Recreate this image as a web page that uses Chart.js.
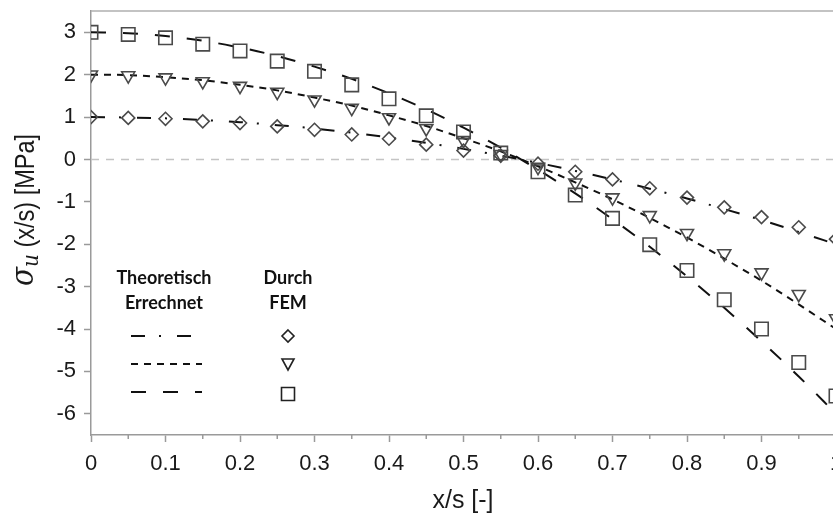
<!DOCTYPE html>
<html>
<head>
<meta charset="utf-8">
<script src="https://cdn.jsdelivr.net/npm/chart.js@4/dist/chart.umd.min.js"></script>
<style>
  html, body { margin: 0; padding: 0; background: #fff; }
  #wrap { width: 833px; height: 515px; overflow: hidden; position: relative; }
  canvas { display: block; }
</style>
</head>
<body>
<div id="wrap"><canvas id="chart" width="860" height="515"></canvas></div>
<script>
// x/s positions
const xValues = [0, 0.05, 0.1, 0.15, 0.2, 0.25, 0.3, 0.35, 0.4, 0.45, 0.5,
                 0.55, 0.6, 0.65, 0.7, 0.75, 0.8, 0.85, 0.9, 0.95, 1.0];

// theoretical curves (lines)
const theoryLow  = [1, 0.99, 0.97, 0.93, 0.88, 0.81, 0.73, 0.63, 0.52, 0.39, 0.25,
                    0.09, -0.08, -0.27, -0.47, -0.69, -0.92, -1.17, -1.43, -1.71, -2];
const theoryMid  = [2, 1.99, 1.94, 1.87, 1.76, 1.63, 1.46, 1.27, 1.04, 0.79, 0.5,
                    0.19, -0.16, -0.54, -0.94, -1.38, -1.84, -2.34, -2.86, -3.42, -4];
const theoryHigh = [3, 2.98, 2.91, 2.8, 2.64, 2.44, 2.19, 1.9, 1.56, 1.18, 0.75,
                    0.28, -0.24, -0.8, -1.41, -2.06, -2.76, -3.5, -4.29, -5.12, -6];

// FEM results (markers)
const femLow  = [1.0, 0.98, 0.96, 0.9, 0.86, 0.78, 0.7, 0.59, 0.49, 0.35, 0.21,
                 0.09, -0.1, -0.29, -0.47, -0.68, -0.9, -1.13, -1.36, -1.6, -1.88];
const femMid  = [2.0, 1.98, 1.93, 1.84, 1.73, 1.59, 1.41, 1.21, 0.99, 0.73, 0.45,
                 0.12, -0.18, -0.55, -0.9, -1.32, -1.74, -2.22, -2.67, -3.18, -3.75];
const femHigh = [3.0, 2.95, 2.87, 2.72, 2.56, 2.32, 2.08, 1.76, 1.43, 1.03, 0.65,
                 0.15, -0.29, -0.84, -1.39, -2.01, -2.62, -3.31, -4.0, -4.79, -5.58];

const xTicks = [0, 0.1, 0.2, 0.3, 0.4, 0.5, 0.6, 0.7, 0.8, 0.9, 1];
const yTicks = [-6, -5, -4, -3, -2, -1, 0, 1, 2, 3];

const dashLow = [14, 14, 2, 16];
const dashMid = [7, 6];
const dashHigh = [15, 17];

const sans = "'Liberation Sans', Arial, sans-serif";
const axisGray = '#9a9a9a';
const markGray = '#4a4a4a';

function toPoints(ys) {
    return xValues.map((x, i) => ({ x: x, y: ys[i] }));
}

function lineSet(ys, dash) {
    return {
        data: toPoints(ys),
        showLine: true,
        borderColor: '#111',
        borderWidth: 2,
        borderDash: dash,
        pointRadius: 0,
        cubicInterpolationMode: 'monotone',
        order: 2
    };
}

function markerSet(ys, style, radius, rotation) {
    return {
        data: toPoints(ys),
        showLine: false,
        pointStyle: style,
        pointRadius: radius,
        pointRotation: rotation,
        pointBorderColor: markGray,
        pointBackgroundColor: 'rgba(0,0,0,0)',
        pointBorderWidth: 1.6,
        order: 1
    };
}

// legend marker drawing
function drawMarker(ctx, kind, x, y) {
    ctx.save();
    ctx.strokeStyle = '#222';
    ctx.lineWidth = 1.6;
    ctx.beginPath();
    if (kind === 'diamond') {
        ctx.moveTo(x, y - 6); ctx.lineTo(x + 6, y); ctx.lineTo(x, y + 6); ctx.lineTo(x - 6, y);
    } else if (kind === 'triangle') {
        ctx.moveTo(x - 6, y - 5); ctx.lineTo(x + 6, y - 5); ctx.lineTo(x, y + 6);
    } else {
        ctx.rect(x - 6.5, y - 6.5, 13, 13);
    }
    ctx.closePath();
    ctx.stroke();
    ctx.restore();
}

const decorPlugin = {
    id: 'decor',
    beforeDatasetsDraw(chart) {
        const ctx = chart.ctx;
        const area = chart.chartArea;
        const xs = chart.scales.x;
        const ys = chart.scales.y;
        ctx.save();
        // zero reference line
        ctx.strokeStyle = '#c4c4c4';
        ctx.lineWidth = 1.5;
        ctx.setLineDash([8, 7]);
        ctx.beginPath();
        ctx.moveTo(area.left, ys.getPixelForValue(0));
        ctx.lineTo(area.right, ys.getPixelForValue(0));
        ctx.stroke();
        ctx.setLineDash([]);
        // top frame
        ctx.strokeStyle = '#b0b0b0';
        ctx.lineWidth = 1.5;
        ctx.beginPath();
        ctx.moveTo(area.left, area.top);
        ctx.lineTo(area.right, area.top);
        ctx.lineTo(area.right, area.bottom);
        ctx.stroke();
        // minor x ticks
        ctx.strokeStyle = axisGray;
        ctx.lineWidth = 1.5;
        for (let i = 0; i < xTicks.length - 1; i++) {
            const px = xs.getPixelForValue(xTicks[i] + 0.05);
            ctx.beginPath();
            ctx.moveTo(px, area.bottom);
            ctx.lineTo(px, area.bottom + 4);
            ctx.stroke();
        }
        ctx.restore();
    },
    afterDraw(chart) {
        const ctx = chart.ctx;
        ctx.save();
        ctx.fillStyle = '#1a1a1a';

        // x title
        ctx.font = '25px ' + sans;
        ctx.textAlign = 'center';
        ctx.textBaseline = 'middle';
        ctx.fillText('x/s [-]', 463, 501);

        // y title (rotated, sigma with subscript u)
        ctx.translate(34, 210);
        ctx.rotate(-Math.PI / 2);
        ctx.scale(0.87, 1);
        const sig = 'σ', sub = 'u', rest = ' (x/s) [MPa]';
        const fSig = 'italic 32px "DejaVu Serif", serif';
        const fSub = 'italic 23px "DejaVu Serif", serif';
        const fRest = '27px ' + sans;
        ctx.font = fSig;
        const wSig = ctx.measureText(sig).width;
        ctx.font = fSub;
        const wSub = ctx.measureText(sub).width;
        ctx.font = fRest;
        const wRest = ctx.measureText(rest).width;
        let cx = -(wSig + wSub + wRest) / 2;
        ctx.textAlign = 'left';
        ctx.textBaseline = 'alphabetic';
        ctx.font = fSig;
        ctx.fillText(sig, cx, -1);
        cx += wSig;
        ctx.font = fSub;
        ctx.fillText(sub, cx, 4);
        cx += wSub;
        ctx.font = fRest;
        ctx.fillText(rest, cx, 0);
        ctx.setTransform(1, 0, 0, 1, 0, 0);

        // legend block
        ctx.fillStyle = '#111';
        ctx.font = 'bold 18px Lato, "Open Sans", sans-serif';
        ctx.textAlign = 'center';
        ctx.textBaseline = 'middle';
        ctx.fillText('Theoretisch', 164, 278);
        ctx.fillText('Errechnet', 164, 303);
        ctx.fillText('Durch', 288, 278);
        ctx.fillText('FEM', 288, 303);

        ctx.strokeStyle = '#111';
        ctx.lineWidth = 2;
        const rows = [[336, dashLow], [364, dashMid], [392, dashHigh]];
        rows.forEach(r => {
            ctx.setLineDash(r[1]);
            ctx.beginPath();
            ctx.moveTo(131, r[0]);
            ctx.lineTo(202, r[0]);
            ctx.stroke();
        });
        ctx.setLineDash([]);
        drawMarker(ctx, 'diamond', 288, 336);
        drawMarker(ctx, 'triangle', 288, 364);
        drawMarker(ctx, 'square', 288, 394);
        ctx.restore();
    }
};

const ctx = document.getElementById('chart').getContext('2d');
new Chart(ctx, {
    type: 'scatter',
    data: {
        datasets: [
            lineSet(theoryLow, dashLow),
            lineSet(theoryMid, dashMid),
            lineSet(theoryHigh, dashHigh),
            markerSet(femLow, 'rectRot', 6.5, 0),
            markerSet(femMid, 'triangle', 7.5, 180),
            markerSet(femHigh, 'rect', 9.5, 0)
        ]
    },
    options: {
        responsive: false,
        animation: false,
        layout: { padding: { top: 10, right: 24, left: 0, bottom: 0 } },
        plugins: {
            legend: { display: false },
            tooltip: { enabled: false }
        },
        scales: {
            x: {
                type: 'linear',
                min: 0,
                max: 1,
                afterFit: scale => {
                    scale.height = 80;
                    scale.paddingLeft = 0;
                    scale.paddingRight = 0;
                },
                afterBuildTicks: scale => { scale.ticks = xTicks.map(v => ({ value: v })); },
                ticks: {
                    color: '#1a1a1a',
                    font: { family: sans, size: 22 },
                    padding: 9,
                    maxRotation: 0,
                    callback: v => String(v)
                },
                grid: {
                    drawOnChartArea: false,
                    drawTicks: true,
                    tickLength: 7,
                    tickColor: axisGray,
                    tickWidth: 1.5
                },
                border: { color: axisGray, width: 1.5 }
            },
            y: {
                type: 'linear',
                min: -6.5,
                max: 3.5,
                afterFit: scale => {
                    scale.width = 91;
                    scale.paddingTop = 0;
                    scale.paddingBottom = 0;
                },
                afterBuildTicks: scale => { scale.ticks = yTicks.map(v => ({ value: v })); },
                ticks: {
                    color: '#1a1a1a',
                    font: { family: sans, size: 22 },
                    padding: 8,
                    callback: v => String(v)
                },
                grid: {
                    drawOnChartArea: false,
                    drawTicks: true,
                    tickLength: 7,
                    tickColor: axisGray,
                    tickWidth: 1.5
                },
                border: { color: axisGray, width: 1.5 }
            }
        }
    },
    plugins: [decorPlugin]
});
</script>
</body>
</html>
